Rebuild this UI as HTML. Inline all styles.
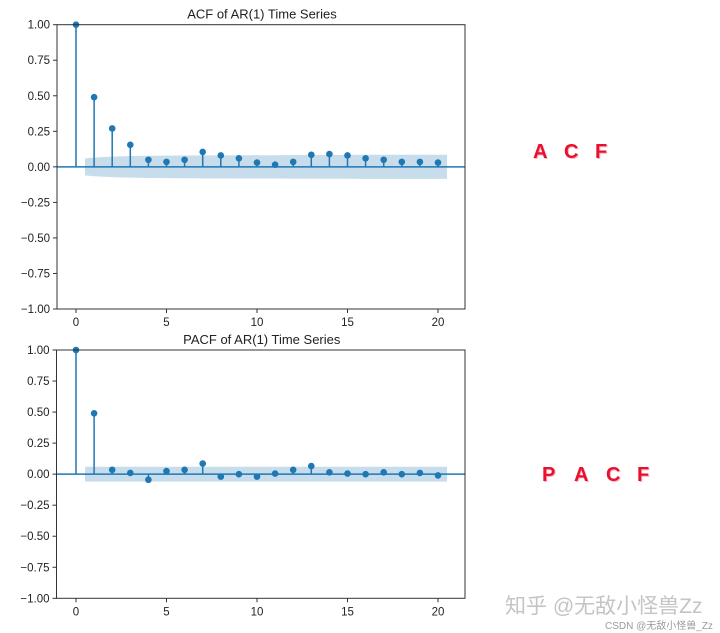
<!DOCTYPE html>
<html><head><meta charset="utf-8"><style>
html,body{margin:0;padding:0;background:#fff;width:720px;height:633px;overflow:hidden}
svg{display:block}
text{font-family:"Liberation Sans","DejaVu Sans",sans-serif}
.lbl{position:absolute;color:#e8102e;font:bold 20px "Liberation Sans",sans-serif;text-shadow:1px 1px 0 #f7b5c0}
.wm{position:absolute;color:#bbb;font-family:"Liberation Sans","Noto Sans CJK SC",sans-serif;white-space:nowrap}
</style></head><body>
<div style="position:relative;width:720px;height:633px">
<svg id="chart" width="720" height="633"></svg>
<div>
<span class="lbl" style="left:533px;top:141px">A</span><span class="lbl" style="left:564px;top:141px">C</span><span class="lbl" style="left:595px;top:141px">F</span>
</div>
<div>
<span class="lbl" style="left:542px;top:464px">P</span><span class="lbl" style="left:574px;top:464px">A</span><span class="lbl" style="left:606px;top:464px">C</span><span class="lbl" style="left:637px;top:464px">F</span>
</div>
<div class="wm" style="left:505px;top:590px;font-size:21px;color:#c4c4c4">知乎 @无敌小怪兽Zz</div>
<div class="wm" style="left:605px;top:617px;font-size:10px;color:#9a9a9a">CSDN @无敌小怪兽_Zz</div>
</div>
<script>
const lags = [0,1,2,3,4,5,6,7,8,9,10,11,12,13,14,15,16,17,18,19,20];
const acfValues = [1,0.49,0.27,0.155,0.05,0.035,0.05,0.105,0.08,0.06,0.03,0.015,0.035,0.085,0.09,0.08,0.06,0.05,0.035,0.035,0.03];
const acfBand = [0.06,0.066,0.072,0.076,0.078,0.079,0.080,0.081,0.081,0.082,0.082,0.082,0.083,0.083,0.084,0.084,0.085,0.085,0.085,0.085,0.085];
const pacfValues = [1,0.49,0.035,0.01,-0.045,0.025,0.035,0.085,-0.02,0,-0.02,0.005,0.035,0.065,0.015,0.005,0,0.015,0,0.01,-0.01];
const pacfBand = [0.06,0.06,0.06,0.06,0.06,0.06,0.06,0.06,0.06,0.06,0.06,0.06,0.06,0.06,0.06,0.06,0.06,0.06,0.06,0.06,0.06];
const yTicks = [1,0.75,0.5,0.25,0,-0.25,-0.5,-0.75,-1];
const yTickLabels = ["1.00","0.75","0.50","0.25","0.00","\u22120.25","\u22120.50","\u22120.75","\u22121.00"];
const xTicks = [0,5,10,15,20];

const NS="http://www.w3.org/2000/svg";
const svg=document.getElementById('chart');
const C="#1f77b4";
function mk(tag,attrs,parent){const e=document.createElementNS(NS,tag);for(const k in attrs)e.setAttribute(k,attrs[k]);(parent||svg).appendChild(e);return e;}

function panel(name,title,L,R,T,B,vals,band){
  const g=mk('g',{});
  
  
  const x0=76,x20=438;
  const xs=v=>x0+(x20-x0)*v/20;
  const ys=v=>T+(B-T)*(1-v)/2;
  const lo=lags.slice(1);
  let d='M'+xs(0.5)+','+ys(band[0]);
  lo.forEach((l,i)=>{d+=' L'+xs(l+(i==lo.length-1?0.5:0))+','+ys(band[i+1]);});
  for(let i=lo.length-1;i>=0;i--){d+=' L'+xs(lo[i]+(i==lo.length-1?0.5:0))+','+ys(-band[i+1]);}
  d+=' L'+xs(0.5)+','+ys(-band[0])+' Z';
  const b=mk('path',{d:d,fill:C,'fill-opacity':0.25},g);
  
  
  const z=mk('line',{x1:L,x2:R,y1:ys(0),y2:ys(0),stroke:C,'stroke-width':1.5},g);
  
  
  lags.forEach((l,i)=>{
    const s=mk('line',{x1:xs(l),x2:xs(l),y1:ys(0),y2:ys(vals[i]),stroke:C,'stroke-width':1.5},g);
    
    
    const c=mk('circle',{cx:xs(l),cy:ys(vals[i]),r:3.3,fill:C},g);
    
    
  });
  const fr=mk('rect',{x:L,y:T,width:R-L,height:B-T,fill:'none',stroke:'#333','stroke-width':1},g);
  
  
  yTicks.forEach((v,i)=>{
    const y=ys(v);
    mk('line',{x1:L-4,x2:L,y1:y,y2:y,stroke:'#333'},g);
    const t=mk('text',{x:L-7,y:y+4,'text-anchor':'end','font-size':11.5,fill:'#222'},g);
    t.textContent=yTickLabels[i];
    
    
  });
  xTicks.forEach(v=>{
    const x=xs(v);
    mk('line',{x1:x,x2:x,y1:B,y2:B+4,stroke:'#333'},g);
    const t=mk('text',{x:x,y:B+17,'text-anchor':'middle','font-size':11.5,fill:'#222'},g);
    t.textContent=v;
    
    
  });
  const tt=mk('text',{x:(L+R)/2+1,y:T-6,'text-anchor':'middle','font-size':13,fill:'#222'},g);
  tt.textContent=title;
  
  
}
panel('acf','ACF of AR(1) Time Series',57,465,24.7,309,acfValues,acfBand);
panel('pacf','PACF of AR(1) Time Series',56.5,465,350,598.3,pacfValues,pacfBand);
</script>
</body></html>
